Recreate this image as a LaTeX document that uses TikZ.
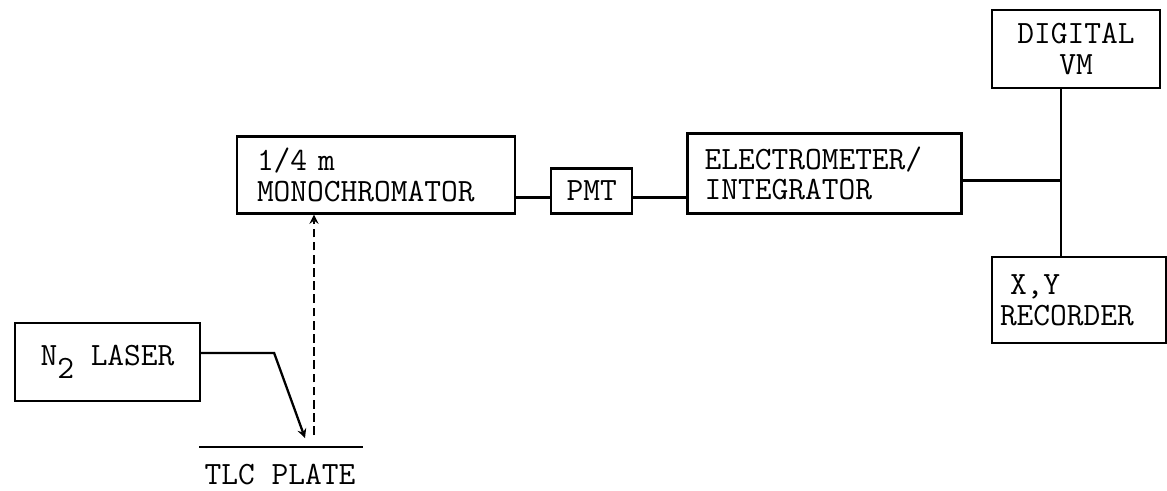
\documentclass[tikz,border=0pt]{standalone}
\usetikzlibrary{positioning}

\begin{document}
\begin{tikzpicture}
  [unit/.style={rectangle,draw=black,line width=1.3pt,inner ysep=0pt,
font=\fontsize{18.5}{17.5}\selectfont\ttfamily}, wire/.style={line width=1.3pt}, >=stealth]
  \useasboundingbox (0,0) rectangle (23.34,-9.8);
  \node[unit,minimum width=5.56cm,minimum height=1.54cm,inner xsep=0.4cm,text width=4.76cm,align=left] (mono) at (7.52,-3.5) {1/4 m\\MONOCHROMATOR};
  \node[unit,minimum width=1.62cm,minimum height=0.9cm] (pmt) [right=0.68cm of mono.south east,anchor=south west] {PMT};
  \node[unit,minimum width=5.48cm,minimum height=1.6cm,inner xsep=0.34cm,text width=4.8cm,align=left] (elec) [right=1.06cm of pmt.south east,anchor=south west] {ELECTROMETER/\\INTEGRATOR};
  \node[unit,minimum width=3.36cm,minimum height=1.56cm,align=center] (dvm) at (21.52,-0.98) {DIGITAL\\VM};
  \node[unit,minimum width=3.48cm,minimum height=1.72cm,inner xsep=0.16cm,text width=3.16cm,align=left] (rec) at (21.58,-6.0) {\hspace*{0.2cm}X,Y\\RECORDER};
  \node[unit,minimum width=3.7cm,minimum height=1.56cm] (laser) at (2.15,-7.24) {N\raisebox{-0.4em}{2} LASER};
  % plate and light path
  \coordinate (plateleft) at (3.98,-8.94);
  \coordinate (plateright) at (7.26,-8.94);
  \coordinate (platemid) at (5.6,-8.94);
  \node[font=\fontsize{18.5}{17.5}\selectfont\ttfamily,inner sep=0pt] (plate) [below=0.34cm of platemid] {TLC PLATE};
  \coordinate (spot) at (6.1,-8.76);
  \coordinate (emit) at (6.28,-8.7);
  \coordinate (pmtin) at ([yshift=-0.13cm]pmt.west);
  \coordinate (bus) at ([xshift=1.96cm,yshift=-0.14cm]elec.east);

  \draw[wire] (plateleft) -- (plateright);
  \draw[wire,->] ([yshift=0.18cm]laser.east) -- ++(1.46,0) -- (spot);
  \draw[wire,->,dash pattern=on 5pt off 2.5pt] (emit) -- (emit |- mono.south);
  \draw[wire] (mono.east |- pmtin) -- (pmtin);
  \draw[wire] (pmtin -| pmt.east) -- (pmtin -| elec.west);
  \draw[wire] (bus -| elec.east) -- (bus);
  \draw[wire] (bus |- dvm.south) -- (bus |- rec.north);

\end{tikzpicture}
\end{document}
